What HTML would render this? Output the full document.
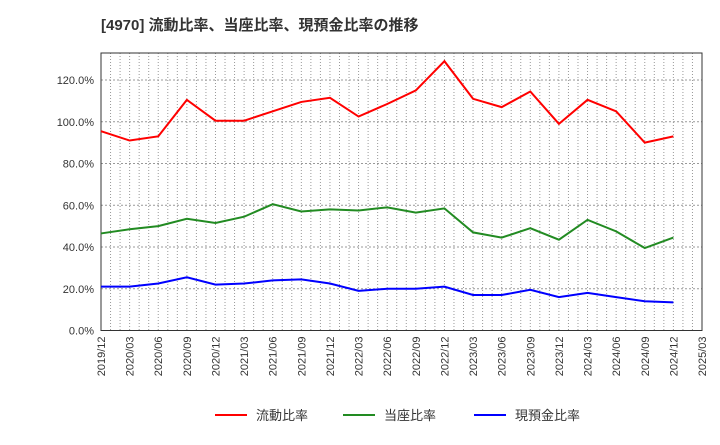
<!DOCTYPE html>
<html><head><meta charset="utf-8"><style>
body{margin:0;background:#fff;font-family:"Liberation Sans","Noto Sans CJK JP",sans-serif;}
svg text{font-family:"Liberation Sans","Noto Sans CJK JP",sans-serif;}
</style></head><body>
<svg id="chart" width="720" height="440" xmlns="http://www.w3.org/2000/svg">
<text x="101" y="30" font-size="15" font-weight="bold" fill="#333">[4970]  流動比率、当座比率、現預金比率の推移</text>
<g id="grid"></g><g id="axes"></g><g id="series"></g><g id="legend"></g>
</svg>
<script>
const xLabels=["2019/12","2020/03","2020/06","2020/09","2020/12","2021/03","2021/06","2021/09","2021/12","2022/03","2022/06","2022/09","2022/12","2023/03","2023/06","2023/09","2023/12","2024/03","2024/06","2024/09","2024/12","2025/03"];
const yTicks=[0,20,40,60,80,100,120];
const currentRatio=[95.5,91,93,110.5,100.5,100.5,105,109.5,111.5,102.5,108.5,115,129,111,107,114.5,99,110.5,105,90,93];
const quickRatio=[46.5,48.5,50,53.5,51.5,54.5,60.5,57,58,57.5,59,56.5,58.5,47,44.5,49,43.5,53,47.5,39.5,44.5];
const cashRatio=[21,21,22.5,25.5,22,22.5,24,24.5,22.5,19,20,20,21,17,17,19.5,16,18,16,14,13.5];
const seriesNames=["流動比率","当座比率","現預金比率"];
const colors=["#ff0000","#228b22","#0000ff"];
const L=101,R=702,T=53,B=330.5;
const step=(R-L)/(xLabels.length-1);
const xs=i=>L+i*step;
const ys=v=>B-(v/120)*(B-80);
const NS="http://www.w3.org/2000/svg";
function mk(tag,attrs,parent){const e=document.createElementNS(NS,tag);for(const k in attrs)e.setAttribute(k,attrs[k]);parent.appendChild(e);return e;}
const grid=document.getElementById('grid'),axes=document.getElementById('axes'),ser=document.getElementById('series'),leg=document.getElementById('legend');
for(let m=1;m<(xLabels.length-1)*3;m++){const x=L+m*step/3;
const g=mk('line',{x1:x,x2:x,y1:T,y2:B,stroke:'#999','stroke-dasharray':'1,2','stroke-width':1},grid);

}
yTicks.forEach(v=>{const y=ys(v);
if(v>0){const g=mk('line',{x1:L,x2:R,y1:y,y2:y,stroke:'#999','stroke-dasharray':'2,2'},grid);

}
const t=mk('text',{x:L-7,y:y+4,'text-anchor':'end','font-size':11,fill:'#333'},axes);t.textContent=v.toFixed(1)+'%';

});
xLabels.forEach((l,i)=>{const x=xs(i);const t=mk('text',{x:0,y:0,transform:`translate(${x+4},${B+6}) rotate(-90)`,'text-anchor':'end','font-size':11,fill:'#333'},axes);t.textContent=l;

});
const fr=mk('rect',{x:L,y:T,width:R-L,height:B-T,fill:'none',stroke:'#333'},axes);


[currentRatio,quickRatio,cashRatio].forEach((d,si)=>{
const p=mk('polyline',{points:d.map((v,i)=>xs(i)+','+ys(v)).join(' '),fill:'none',stroke:colors[si],'stroke-width':2},ser);


const lx=[215,343,474][si];
const ll=mk('line',{x1:lx,x2:lx+32,y1:415,y2:415,stroke:colors[si],'stroke-width':2},leg);


const lt=mk('text',{x:lx+41,y:420,'font-size':13,fill:'#333'},leg);lt.textContent=seriesNames[si];

});
</script>
</body></html>
